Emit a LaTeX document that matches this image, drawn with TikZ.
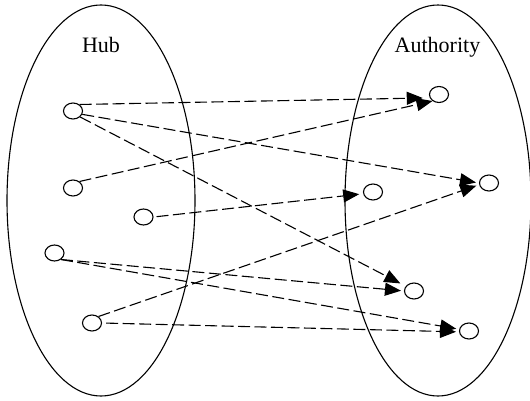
\documentclass[tikz,border=0pt]{standalone}
\usepackage{fontspec}
\setmainfont{Liberation Serif}
\usetikzlibrary{arrows.meta,shapes.geometric}
\begin{document}
\begin{tikzpicture}[x=1pt,y=-1pt,
  setline/.style={draw,line width=1.1pt},
  vertex/.style={draw,ellipse,line width=1.1pt,minimum width=19pt,minimum height=16pt,inner sep=0pt},
  link/.style={line width=1.1pt,dash pattern=on 12pt off 4.5pt,-{Triangle[length=16pt,width=13pt]}},
  settitle/.style={font=\fontsize{22}{24}\selectfont,anchor=base,inner sep=0pt}]
\useasboundingbox (0,0) rectangle (530,401);

% the two sets
\draw[setline] (101,200.5) ellipse [x radius=94pt, y radius=195.5pt];
\draw[setline] (438,200.5) ellipse [x radius=93pt, y radius=195.5pt];
\node[settitle] (hubtitle) at (101,53) {Hub};
\node[settitle] (authtitle) at (437.5,53) {Authority};

% hub pages
\node[vertex] (H1) at (73,111) {};
\node[vertex] (H2) at (73,188) {};
\node[vertex] (H3) at (143.5,217) {};
\node[vertex] (H4) at (54.5,253) {};
\node[vertex] (H5) at (92,323) {};

% authority pages
\node[vertex] (A1) at (439,94.5) {};
\node[vertex] (A2) at (489,183) {};
\node[vertex] (A3) at (373,192) {};
\node[vertex] (A4) at (414,291) {};
\node[vertex] (A5) at (469,331) {};

% links
\draw[link,shorten >=7pt] (H1.45) -- (A1.200);
\draw[link,shorten >=3pt] (H1.-20) -- (A2.180);
\draw[link,shorten >=6pt] (H1.-40) -- (A4.150);
\draw[link] (H2.45) -- (A1.225);
\draw[link,shorten <=3pt,shorten >=4pt] (H3.0) -- (A3.190);
\draw[link,shorten >=3pt] (H4.-45) -- (A4.180);
\draw[link,shorten >=3pt] (H4.-45) -- (A5.170);
\draw[link,shorten >=3pt] (H5.45) -- (A2.190);
\draw[link,shorten <=4pt,shorten >=3pt] (H5.0) -- (A5.185);
\end{tikzpicture}
\end{document}
